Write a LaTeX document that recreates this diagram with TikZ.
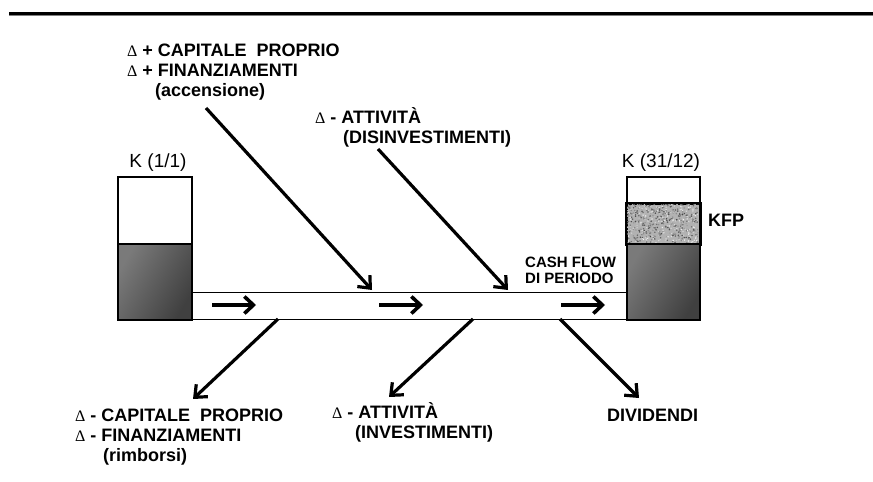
\documentclass[tikz,border=0pt]{standalone}
\usepackage{fontspec}
\setmainfont{Liberation Sans}
\newfontfamily\deltafont{Liberation Serif}
\usetikzlibrary{arrows.meta}
\tikzset{
  lbl/.style={anchor=base west, inner sep=0pt, align=left, font=\bfseries\fontsize{18}{20}\selectfont},
  klbl/.style={anchor=base, inner sep=0pt, font=\fontsize{19}{22}\selectfont},
  flow/.style={line width=3.2pt, -{Straight Barb[length=10pt,width=17pt,line width=3.2pt]}},
  chanarrow/.style={line width=3.6pt, -{Straight Barb[length=9pt,width=17pt,line width=3.6pt]}},
  boxline/.style={draw=black, line width=1.8pt},
  darkfill/.style={left color=black!52, right color=black!75, shading angle=60},
}
\newcommand{\dlt}{{\deltafont\fontsize{16}{20}\selectfont\textmd{Δ}}}
\begin{document}
\begin{tikzpicture}[x=1pt,y=-1pt]
\useasboundingbox (0,0) rectangle (873,482);
% top rule
\draw[line width=3pt] (9,13) -- (873,13);
\draw[line width=1pt, gray] (9,15.5) -- (873,15.5);

% channel
\node[draw=black, line width=1pt, minimum width=435pt, minimum height=27pt, inner sep=0pt, anchor=north west] (chan) at (191,292) {};

% left box
\node[boxline, fill=white, minimum width=74pt, minimum height=67pt, inner sep=0pt, anchor=north west] (k1top) at (117,176) {};
\node[boxline, darkfill, minimum width=74pt, minimum height=76pt, inner sep=0pt, anchor=north west] (k1bot) at (117,243) {};
\node[klbl] (k1lbl) at (158,167) {K (1/1)};

% right box
\node[boxline, fill=white, minimum width=73pt, minimum height=27pt, inner sep=0pt, anchor=north west] (k2top) at (626,176) {};
\node[boxline, fill=black!30, minimum width=73pt, minimum height=40pt, inner sep=0pt, anchor=north west] (k2mid) at (626,203) {};
\begin{scope}
\clip (627,204) rectangle (698,242);
\pgfmathsetseed{11}
\foreach \i in {1,...,700}{
  \pgfmathsetmacro\px{626+73*rnd}
  \pgfmathsetmacro\py{203+40*rnd}
  \pgfmathsetmacro\pg{int(5+70*rnd)}
  \fill[black!\pg] (\px,\py) circle (0.8);
}
\end{scope}
\draw[boxline] (k2mid.north west) rectangle (k2mid.south east);
\node[boxline, darkfill, minimum width=73pt, minimum height=76pt, inner sep=0pt, anchor=north west] (k2bot) at (626,243) {};
\node[klbl] (k2lbl) at (661,167) {K (31/12)};
\node[lbl] (kfp) at (708,226) {KFP};

% arrows inside channel
\coordinate (c1a) at (212,305); \coordinate (c1b) at (256,305);
\coordinate (c2a) at (379,305); \coordinate (c2b) at (423,305);
\coordinate (c3a) at (561,305); \coordinate (c3b) at (605,305);
\draw[chanarrow] (c1a) -- (c1b);
\draw[chanarrow] (c2a) -- (c2b);
\draw[chanarrow] (c3a) -- (c3b);

% texts (base anchor = baseline of last line)
\node[lbl] (capplus) at (127,96) {\dlt\ + CAPITALE\ \ PROPRIO\\\dlt\ + FINANZIAMENTI\\\hspace*{28pt}(accensione)};
\node[lbl] (disinv) at (315,143) {\dlt\ - ATTIVITÀ\\\hspace*{28pt}(DISINVESTIMENTI)};
\node[lbl, font=\bfseries\fontsize{15}{16}\selectfont] (cf) at (525,283) {CASH FLOW\\DI PERIODO};
\node[lbl] (capminus) at (75,461) {\dlt\ - CAPITALE\ \ PROPRIO\\\dlt\ - FINANZIAMENTI\\\hspace*{28pt}(rimborsi)};
\node[lbl] (inv) at (332,438) {\dlt\ - ATTIVITÀ\\\hspace*{23pt}(INVESTIMENTI)};
\node[lbl] (div) at (607,421) {DIVIDENDI};

% diagonal connectors
\coordinate (a1s) at (206,108); \coordinate (a1e) at (372,290);
\coordinate (a2s) at (378,149); \coordinate (a2e) at (508,290);
\coordinate (b1s) at (278,319); \coordinate (b1e) at (193,399);
\coordinate (b2s) at (473,319); \coordinate (b2e) at (389,397);
\coordinate (b3s) at (560,319); \coordinate (b3e) at (639,398);
\draw[flow] (a1s) -- (a1e);
\draw[flow] (a2s) -- (a2e);
\draw[flow] (b1s) -- (b1e);
\draw[flow] (b2s) -- (b2e);
\draw[flow] (b3s) -- (b3e);
\end{tikzpicture}
\end{document}
